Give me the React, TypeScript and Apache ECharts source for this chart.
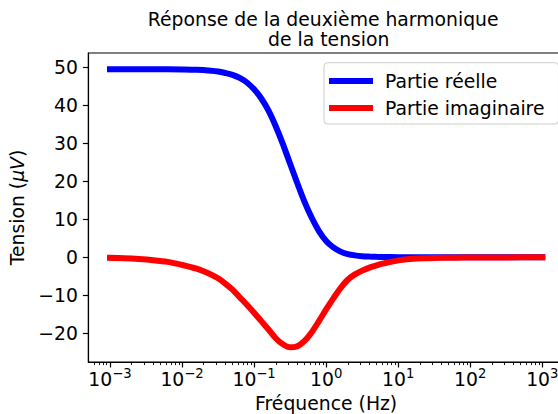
import React, { useEffect, useRef } from 'react';
import * as echarts from 'echarts';

const FONT = 'DejaVu Sans';
const FS = 18.8;
const FS_SUP = 13.2;

const frequencies = [
  0.001, 0.001585, 0.002512, 0.003981, 0.00631, 0.01, 0.01585, 0.02512, 0.03162, 0.03981,
  0.05012, 0.0631, 0.07943, 0.1, 0.1259, 0.1585, 0.1995, 0.2512, 0.3162, 0.3981,
  0.5012, 0.631, 0.7943, 1, 1.259, 1.585, 1.995, 2.512, 3.162, 3.981,
  5.012, 6.31, 10, 15.85, 25.12, 39.81, 63.1, 100, 316.2, 1000,
];
// Partie réelle (µV)
const realPart = [
  49.5, 49.5, 49.5, 49.5, 49.5, 49.45, 49.35, 49.1, 48.9, 48.5,
  48.0, 47.2, 46.0, 44.2, 41.8, 38.6, 34.5, 29.8, 24.6, 19.5,
  14.6, 10.4, 6.9, 4.3, 2.6, 1.5, 0.85, 0.5, 0.3, 0.2,
  0.13, 0.08, 0.03, 0.01, 0, 0, 0, 0, 0, 0,
];
// Partie imaginaire (µV)
const imagPart = [
  -0.15, -0.25, -0.45, -0.75, -1.2, -2.0, -3.0, -4.5, -5.5, -6.9,
  -8.5, -10.5, -12.5, -14.6, -16.8, -19.0, -21.3, -22.9, -23.7, -23.4,
  -22.0, -19.7, -16.8, -13.7, -10.8, -8.1, -5.9, -4.5, -3.5, -2.7,
  -2.1, -1.6, -0.8, -0.4, -0.25, -0.15, -0.1, -0.07, -0.03, 0,
];

const seriesNames = ['Partie réelle', 'Partie imaginaire'];
const titleLines = ['Réponse de la deuxième harmonique', 'de la tension'];
const yTicks = [-20, -10, 0, 10, 20, 30, 40, 50];
const xMajorTicks = [0.001, 0.01, 0.1, 1, 10, 100, 1000];
const minorMultipliers = [2, 3, 4, 5, 6, 7, 8, 9];
const minorDecades = [-4, -3, -2, -1, 0, 1, 2, 3];

const X_MIN = Math.pow(10, -3.3);
const X_MAX = Math.pow(10, 3.3);
const Y_MIN = -27.55;
const Y_MAX = 53.76;

const xMinorTicks: number[] = [];
minorDecades.forEach((d) => {
  minorMultipliers.forEach((m) => {
    const v = m * Math.pow(10, d);
    if (v >= X_MIN && v <= X_MAX) xMinorTicks.push(v);
  });
});

const fmtY = (v: number) => (v < 0 ? '\u2212' + String(-v) : String(v));
const fmtX = (v: number) => {
  const e = Math.round(Math.log10(v));
  const s = e < 0 ? '\u2212' + String(-e) : String(e);
  return '{b|10}{s|' + s + '}';
};

export default function App() {
  const ref = useRef<HTMLDivElement>(null);
  useEffect(() => {
    if (!ref.current) return;
    const chart = echarts.init(ref.current, null, { renderer: 'svg' });
    const titleStyle = (text: string) => ({
      text,
      fontSize: FS,
      fontFamily: FONT,
      fill: '#000',
      align: 'center',
      textAlign: 'center',
      verticalAlign: 'middle',
      textVerticalAlign: 'middle',
    });
    const option: any = {
      animation: false,
      textStyle: { fontFamily: FONT },
      graphic: [
        { type: 'text', x: 323.2, y: 19.2, style: titleStyle(titleLines[0]) },
        { type: 'text', x: 328.8, y: 39.4, style: titleStyle(titleLines[1]) },
      ],
      grid: {
        left: 88.4,
        top: 53,
        right: -5.9,
        bottom: 52,
        outerBoundsMode: 'none',
        containLabel: false,
        show: true,
        borderColor: '#000',
        borderWidth: 1.2,
        backgroundColor: 'transparent',
      },
      legend: {
        orient: 'vertical',
        left: 324,
        top: 62.7,
        padding: [8.3, 14, 6, 5],
        itemWidth: 44,
        itemHeight: 6,
        itemGap: 7,
        icon: 'rect',
        backgroundColor: 'rgba(255,255,255,0.8)',
        borderColor: '#cccccc',
        borderWidth: 1,
        borderRadius: 3.5,
        textStyle: { fontSize: FS, fontFamily: FONT, color: '#000', lineHeight: 20, padding: [0, 0, 0, 7] },
        data: seriesNames,
      },
      xAxis: [
        {
          type: 'log',
          min: X_MIN,
          max: X_MAX,
          position: 'bottom',
          axisLine: { show: true, onZero: false, lineStyle: { color: '#000', width: 1.2 } },
          axisTick: { show: true, length: 5.5, lineStyle: { color: '#000', width: 1.2 }, customValues: xMajorTicks },
          minorTick: { show: false },
          splitLine: { show: false },
          axisLabel: {
            customValues: xMajorTicks,
            formatter: fmtX,
            margin: 5,
            color: '#000',
            rich: {
              b: { fontSize: FS, fontFamily: FONT, color: '#000', lineHeight: 24 },
              s: { fontSize: FS_SUP, fontFamily: FONT, color: '#000', lineHeight: 14, verticalAlign: 'top' },
            },
          },
          name: 'Fréquence (Hz)',
          nameLocation: 'middle',
          nameGap: 27.9,
          nameTextStyle: { fontSize: FS, fontFamily: FONT, color: '#000', lineHeight: 20 },
        },
        {
          type: 'log',
          min: X_MIN,
          max: X_MAX,
          position: 'bottom',
          offset: 0,
          axisLine: { show: false, onZero: false },
          axisTick: { show: true, length: 3.1, lineStyle: { color: '#000', width: 0.9 }, customValues: xMinorTicks },
          axisLabel: { show: false },
          splitLine: { show: false },
          minorTick: { show: false },
        },
      ],
      yAxis: {
        type: 'value',
        min: Y_MIN,
        max: Y_MAX,
        axisLine: { show: true, onZero: false, lineStyle: { color: '#000', width: 1.2 } },
        axisTick: { show: true, length: 5.5, lineStyle: { color: '#000', width: 1.2 }, customValues: yTicks },
        splitLine: { show: false },
        axisLabel: {
          customValues: yTicks,
          formatter: fmtY,
          margin: 10.5,
          color: '#000',
          fontSize: FS,
          fontFamily: FONT,
        },
        name: 'Tension ({i|μV})',
        nameLocation: 'middle',
        nameRotate: 90,
        nameGap: 48,
        nameTextStyle: {
          fontSize: FS,
          fontFamily: FONT,
          color: '#000',
          lineHeight: 20,
          rich: {
            i: { fontSize: FS, fontFamily: FONT, fontStyle: 'italic', color: '#000', lineHeight: 20 },
          },
        },
      },
      series: [
        {
          name: seriesNames[0],
          type: 'line',
          xAxisIndex: 0,
          data: frequencies.map((f, i) => [f, realPart[i]]),
          showSymbol: false,
          symbol: 'none',
          smooth: 0.3,
          lineStyle: { color: '#0000ff', width: 6, cap: 'square' },
          itemStyle: { color: '#0000ff' },
          z: 2,
        },
        {
          name: seriesNames[1],
          type: 'line',
          xAxisIndex: 0,
          data: frequencies.map((f, i) => [f, imagPart[i]]),
          showSymbol: false,
          symbol: 'none',
          smooth: 0.3,
          lineStyle: { color: '#ff0000', width: 6, cap: 'square' },
          itemStyle: { color: '#ff0000' },
          z: 3,
        },
      ],
    };
    chart.setOption(option);
    return () => chart.dispose();
  }, []);
  return <div ref={ref} style={{ position: 'absolute', left: 0, top: 0, width: 558, height: 414 }} />;
}
